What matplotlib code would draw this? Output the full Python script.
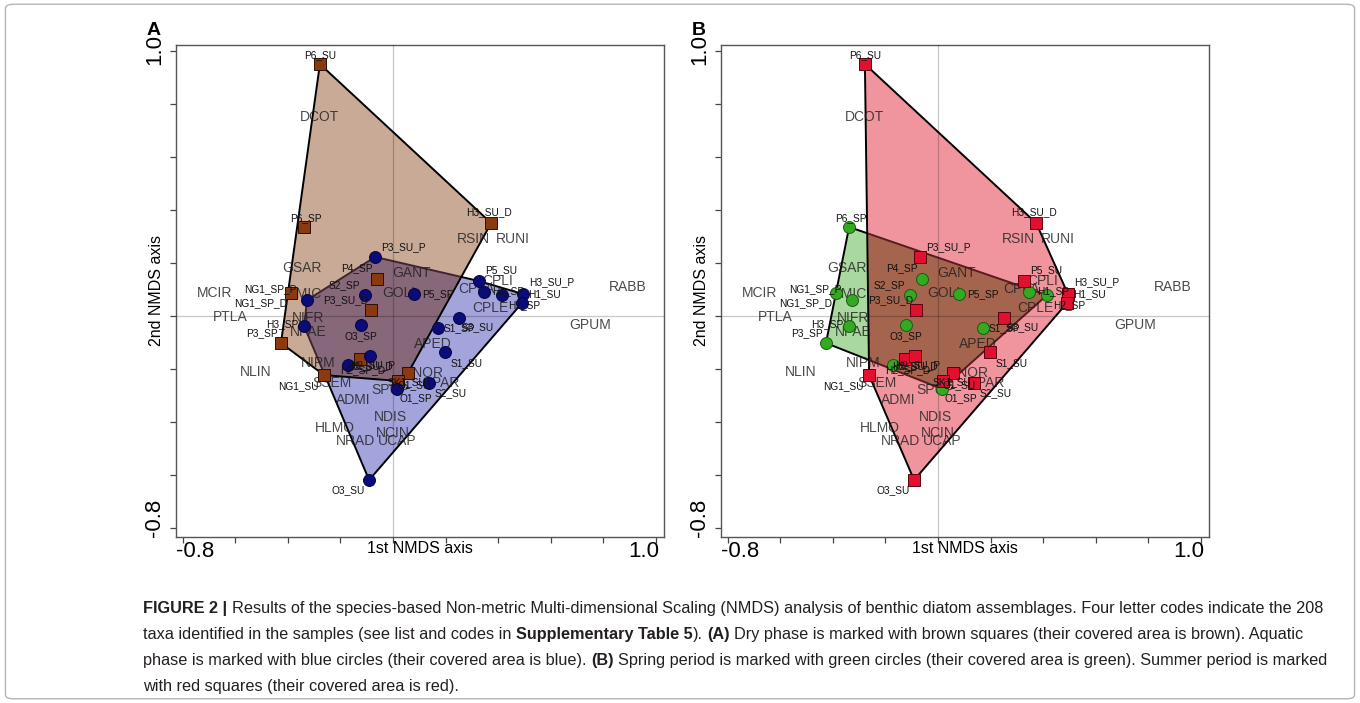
import numpy as np
import matplotlib
matplotlib.use('Agg')
import matplotlib.pyplot as plt
from matplotlib.patches import Polygon, FancyBboxPatch

plt.rcParams['font.family'] = ['Liberation Sans', 'DejaVu Sans']

# NMDS sample scores
sample_names = ['P6_SU', 'P6_SP', 'H3_SU_D', 'NG1_SP_P', 'NG1_SP_D', 'H3_SP', 'P3_SP',
                'NG1_SU', 'P3_SU_P', 'P4_SP', 'S2_SP', 'P3_SU_D', 'O3_SP', 'H2_SP_D',
                'H2_SU_D', 'H2_SU_P', 'O1_SU', 'SK1_SU', 'O1_SP', 'S2_SU', 'O3_SU',
                'P5_SU', 'H1_SP', 'H2_SP', 'H1_SU', 'H3_SU_P', 'P5_SP', 'S3_SU',
                'S1_SP', 'S1_SU']
sample_x = [-0.278, -0.338, 0.373, -0.388, -0.327, -0.338, -0.426,
            -0.262, -0.068, -0.061, -0.106, -0.084, -0.122, -0.171,
            -0.125, -0.087, 0.057, 0.019, 0.015, 0.137, -0.091,
            0.327, 0.346, 0.414, 0.494, 0.490, 0.080, 0.251,
            0.171, 0.198]
sample_y = [0.951, 0.336, 0.351, 0.087, 0.060, -0.038, -0.102,
            -0.223, 0.223, 0.140, 0.079, 0.023, -0.034, -0.185,
            -0.162, -0.151, -0.215, -0.245, -0.275, -0.253, -0.619,
            0.132, 0.091, 0.079, 0.083, 0.049, 0.083, -0.008,
            -0.045, -0.136]
sample_phase = ['dry', 'dry', 'dry', 'dry', 'aquatic', 'aquatic', 'dry',
                'dry', 'aquatic', 'dry', 'aquatic', 'dry', 'aquatic', 'aquatic',
                'dry', 'aquatic', 'dry', 'dry', 'aquatic', 'aquatic', 'aquatic',
                'aquatic', 'aquatic', 'aquatic', 'aquatic', 'aquatic', 'aquatic', 'aquatic',
                'aquatic', 'aquatic']
sample_season = ['spring' if '_SP' in n else 'summer' for n in sample_names]

# species scores (four letter codes)
species_codes = ['DCOT', 'GSAR', 'MCIR', 'GMIC', 'PTLA', 'NIFR', 'NPAE', 'NLIN', 'NIPM',
                 'SSEM', 'GANT', 'GOLI', 'RSIN', 'RUNI', 'CPLI', 'CPLA', 'CPLE', 'RABB',
                 'GPUM', 'APED', 'ENOR', 'GPAR', 'SPUP', 'ADMI', 'NDIS', 'HLMO', 'NCIN',
                 'NRAD', 'UCAP']
species_x = [-0.278, -0.346, -0.677, -0.342, -0.620, -0.323, -0.323, -0.521, -0.285,
             -0.232, 0.072, 0.023, 0.304, 0.456, 0.399, 0.316, 0.369, 0.894,
             0.749, 0.152, 0.118, 0.179, -0.011, -0.152, -0.011, -0.221, 0.000,
             -0.144, 0.015]
species_y = [0.751, 0.181, 0.087, 0.083, -0.004, -0.008, -0.060, -0.211, -0.177,
             -0.253, 0.162, 0.087, 0.291, 0.291, 0.132, 0.102, 0.030, 0.109,
             -0.034, -0.106, -0.215, -0.253, -0.279, -0.317, -0.381, -0.423, -0.442,
             -0.472, -0.472]

# where each sample name sits relative to its marker (pixels, right / up)
label_offset = {
    'P6_SU': (0, 9), 'P6_SP': (2, 9), 'H3_SU_D': (-2, 11), 'NG1_SP_P': (-21, 4),
    'NG1_SP_D': (-46, -3), 'H3_SP': (-22, 2), 'P3_SP': (-19, 10), 'NG1_SU': (-26, -11),
    'P3_SU_P': (28, 10), 'P4_SP': (-20, 11), 'S2_SP': (-21, 10), 'P3_SU_D': (-25, 10),
    'O3_SP': (0, -11), 'H2_SP_D': (15, -5), 'H2_SU_D': (10, -7), 'H2_SU_P': (2, -9),
    'O1_SU': (6, -12), 'SK1_SU': (9, -1), 'O1_SP': (19, -9), 'S2_SU': (22, -10),
    'O3_SU': (-21, -10), 'P5_SU': (22, 11), 'H1_SP': (24, 1), 'H2_SP': (22, -10),
    'H1_SU': (21, 0), 'H3_SU_P': (30, 21), 'P5_SP': (24, 0), 'S3_SU': (19, -9),
    'S1_SP': (21, 0), 'S1_SU': (21, -11),
}


def convex_hull(pts):
    pts = sorted(set(pts))

    def cross(o, a, b):
        return (a[0] - o[0]) * (b[1] - o[1]) - (a[1] - o[1]) * (b[0] - o[0])
    lower, upper = [], []
    for p in pts:
        while len(lower) >= 2 and cross(lower[-2], lower[-1], p) <= 0:
            lower.pop()
        lower.append(p)
    for p in reversed(pts):
        while len(upper) >= 2 and cross(upper[-2], upper[-1], p) <= 0:
            upper.pop()
        upper.append(p)
    return lower[:-1] + upper[:-1]


xs = np.array(sample_x)
ys = np.array(sample_y)


def draw_panel(ax, groups, labels_col, bottom, top, overlap_col, tint, letter):
    pb = [(x, y) for x, y, g in zip(xs, ys, labels_col) if g == bottom['key']]
    pt = [(x, y) for x, y, g in zip(xs, ys, labels_col) if g == top['key']]
    hb = convex_hull(pb)
    ht = convex_hull(pt)

    ax.add_patch(Polygon(hb, closed=True, fc=bottom['fill'], ec='black', lw=1.4, zorder=1))
    top_patch = Polygon(ht, closed=True, fc=top['fill'], ec='none', zorder=2)
    ax.add_patch(top_patch)
    ov = Polygon(hb, closed=True, fc=overlap_col, ec=tint, lw=1.4, zorder=3)
    ax.add_patch(ov)
    ov.set_clip_path(top_patch)
    ax.add_patch(Polygon(ht, closed=True, fill=False, ec='black', lw=1.4, zorder=4))

    ax.axhline(0, color='black', alpha=0.22, lw=0.9, zorder=4.5)
    ax.axvline(0, color='black', alpha=0.22, lw=0.9, zorder=4.5)

    for c, x, y in zip(species_codes, species_x, species_y):
        ax.text(x, y, c, fontsize=10, color='#1e1e1e', alpha=0.8,
                ha='center', va='center', zorder=5)

    for grp in (groups[0], groups[1]):
        m = np.array([g == grp['key'] for g in labels_col])
        ax.plot(xs[m], ys[m], ls='none', marker=grp['marker'], ms=grp['ms'],
                mfc=grp['color'], mec=grp['edge'], mew=0.7, zorder=6)

    for n, x, y in zip(sample_names, xs, ys):
        dx, dy = label_offset[n]
        ax.annotate(n, (x, y), xytext=(dx * 0.72, dy * 0.72), textcoords='offset points',
                    fontsize=7.3, color='#111111', ha='center', va='center', zorder=7)

    ax.set_xlim(-0.825, 1.030)
    ax.set_ylim(-0.834, 1.023)
    ticks = np.round(np.arange(-0.8, 1.01, 0.2), 1)
    ax.set_xticks(ticks)
    ax.set_yticks(ticks)
    ax.set_xticklabels([])
    ax.set_yticklabels([])
    ax.tick_params(direction='out', length=4, width=0.9, color='#444444')
    for s in ax.spines.values():
        s.set_color('#555555')
        s.set_linewidth(1.0)

    ax.text(0.0, -0.008, '-0.8', transform=ax.transAxes, ha='left', va='top', fontsize=16)
    ax.text(0.99, -0.008, '1.0', transform=ax.transAxes, ha='right', va='top', fontsize=16)
    ax.text(-0.022, 0.0, '-0.8', transform=ax.transAxes, ha='right', va='bottom',
            rotation=90, fontsize=16)
    ax.text(-0.022, 0.99, '1.0', transform=ax.transAxes, ha='right', va='center',
            rotation=90, fontsize=16)
    ax.text(0.5, -0.024, '1st NMDS axis', transform=ax.transAxes, ha='center', va='center',
            fontsize=11.5)
    ax.text(-0.04, 0.5, '2nd NMDS axis', transform=ax.transAxes, ha='center', va='center',
            rotation=90, fontsize=11.5)
    ax.text(-0.045, 1.03, letter, transform=ax.transAxes, ha='center', va='center',
            fontsize=14, fontweight='bold')


fig = plt.figure(figsize=(13.6, 7.03), dpi=100)
fig.patch.set_facecolor('white')
fig.add_artist(FancyBboxPatch((0.004, 0.006), 0.992, 0.988, boxstyle='round,pad=0,rounding_size=0.006',
                              transform=fig.transFigure, fc='none', ec='#b5b5b5', lw=1.0))

axA = fig.add_axes([176 / 1360, 1 - 537 / 703, 488 / 1360, 492 / 703])
axB = fig.add_axes([721 / 1360, 1 - 537 / 703, 488 / 1360, 492 / 703])

aquatic = dict(key='aquatic', fill='#A4A4DC', marker='o', ms=8.6, color='#0B0B7A', edge='#050540')
dry = dict(key='dry', fill='#C9AA97', marker='s', ms=8.0, color='#8B3A10', edge='#2a1005')
draw_panel(axA, [dry, aquatic], sample_phase, aquatic, dry, '#87677A', '#40262C', 'A')

spring = dict(key='spring', fill='#A9D99E', marker='o', ms=8.6, color='#33AA22', edge='#1a5a10')
summer = dict(key='summer', fill='#F0959E', marker='s', ms=8.0, color='#E0102E', edge='#5a0010')
draw_panel(axB, [spring, summer], sample_season, spring, summer, '#A5644E', '#5A1A20', 'B')

# caption
renderer = fig.canvas.get_renderer()
cap_kw = dict(fontsize=11.7, color='#231F20', va='center', ha='left')
probe1 = fig.text(0, 0, 'x x', **cap_kw)
probe2 = fig.text(0, 0, 'xx', **cap_kw)
space_w = (probe1.get_window_extent(renderer).width - probe2.get_window_extent(renderer).width) / fig.bbox.width
probe1.remove()
probe2.remove()


def caption_line(y_px, parts):
    x = 143 / 1360
    y = 1 - y_px / 703
    for txt, bold in parts:
        if txt.startswith(' '):
            x += space_w
        t = fig.text(x, y, txt.strip(), fontweight='bold' if bold else 'normal', **cap_kw)
        x += t.get_window_extent(renderer).width / fig.bbox.width
        if txt.endswith(' '):
            x += space_w


caption_line(609, [('FIGURE 2 | ', True),
                   ('Results of the species-based Non-metric Multi-dimensional Scaling (NMDS) analysis '
                    'of benthic diatom assemblages. Four letter codes indicate the 208', False)])
caption_line(635, [('taxa identified in the samples (see list and codes in ', False),
                   ('Supplementary Table 5', True),
                   ('). ', False), ('(A)', True),
                   (' Dry phase is marked with brown squares (their covered area is brown). Aquatic', False)])
caption_line(661, [('phase is marked with blue circles (their covered area is blue). ', False),
                   ('(B)', True),
                   (' Spring period is marked with green circles (their covered area is green). '
                    'Summer period is marked', False)])
caption_line(687, [('with red squares (their covered area is red).', False)])

fig.savefig('out.png', dpi=100)
